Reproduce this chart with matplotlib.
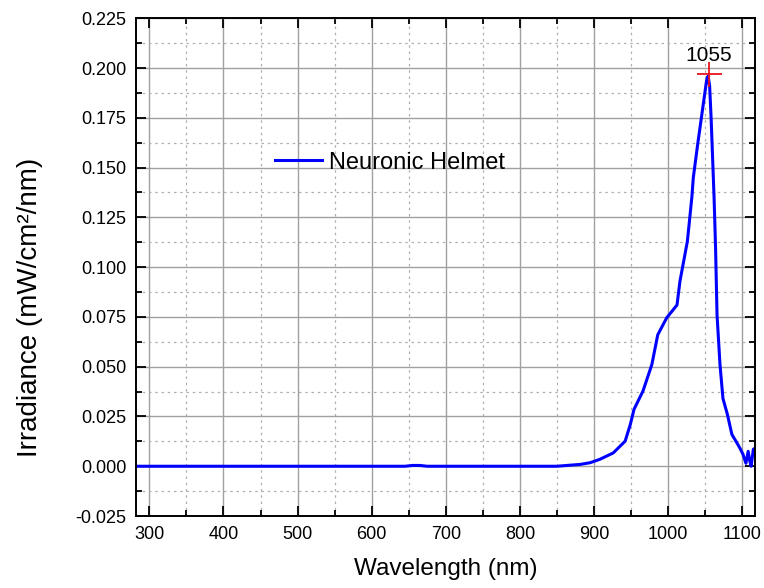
import matplotlib.pyplot as plt
from matplotlib.ticker import MultipleLocator

plt.rcParams['font.family'] = ['Liberation Sans', 'DejaVu Sans']

# Spectre
wavelength = [282, 400, 500, 600, 645, 655, 665, 675, 700, 800, 850, 860, 870,
              881, 895, 908, 926, 942, 949, 954, 966, 978, 986, 998, 1012, 1016,
              1026, 1032, 1034, 1040, 1046, 1049, 1052, 1054, 1056, 1058, 1060,
              1062, 1064, 1066, 1070, 1074, 1080, 1086, 1093, 1097, 1101, 1105,
              1108, 1110, 1112, 1115, 1117]
irradiance = [0.0, 0.0, 0.0, 0.0, 0.0, 0.0004, 0.0004, 0.0, 0.0, 0.0, 0.0,
              0.0003, 0.0006, 0.0009, 0.0018, 0.0035, 0.0067, 0.0126, 0.021, 0.0286,
              0.0377, 0.051, 0.066, 0.0745, 0.081, 0.093, 0.113, 0.135, 0.145,
              0.162, 0.178, 0.186, 0.194, 0.196, 0.191, 0.175, 0.155, 0.135,
              0.110, 0.076, 0.051, 0.034, 0.026, 0.016, 0.0116, 0.009, 0.006,
              0.0015, 0.0075, 0.003, 0.0, 0.0085, 0.009]
peak_x = 1055
peak_y = 0.197

fig = plt.figure(figsize=(7.64, 5.88), dpi=100)
ax = fig.add_axes([0.178, 0.1224, 0.81, 0.8466])

ax.plot(wavelength, irradiance, color='#0000ff', lw=2.2, label='Neuronic Helmet')
ax.plot(peak_x, peak_y, marker='+', color='#e8141c', markersize=18, mew=1.3)
ax.annotate(f'{peak_x}', (peak_x, peak_y), textcoords='offset points', xytext=(0, 9),
            ha='center', fontsize=15)

ax.set_xlim(282, 1117)
ax.set_ylim(-0.025, 0.225)
ax.xaxis.set_major_locator(MultipleLocator(100))
ax.xaxis.set_minor_locator(MultipleLocator(50))
ax.yaxis.set_major_locator(MultipleLocator(0.025))
ax.yaxis.set_minor_locator(MultipleLocator(0.0125))
ax.yaxis.set_major_formatter(plt.FormatStrFormatter('%.3f'))

ax.grid(True, which='major', color='#a0a0a0', lw=1.0, ls='-')
ax.grid(True, which='minor', color='#b0b0b0', lw=0.9, ls=(0, (2, 3)))
ax.set_axisbelow(True)

ax.tick_params(which='both', direction='in', top=True, right=True, width=1.3)
ax.tick_params(which='major', length=7, labelsize=13, pad=7)
ax.tick_params(which='minor', length=4)
for s in ax.spines.values():
    s.set_linewidth(1.4)

ax.set_xlabel('Wavelength (nm)', fontsize=17.5, labelpad=11)
ax.set_ylabel('Irradiance (mW/cm²/nm)', fontsize=20)
ax.yaxis.set_label_coords(-0.15, 0.42)

ax.legend(loc='center left', bbox_to_anchor=(0.19, 0.71), frameon=False, fontsize=17,
          handlelength=2.0, handletextpad=0.3)

plt.savefig('out.png')
